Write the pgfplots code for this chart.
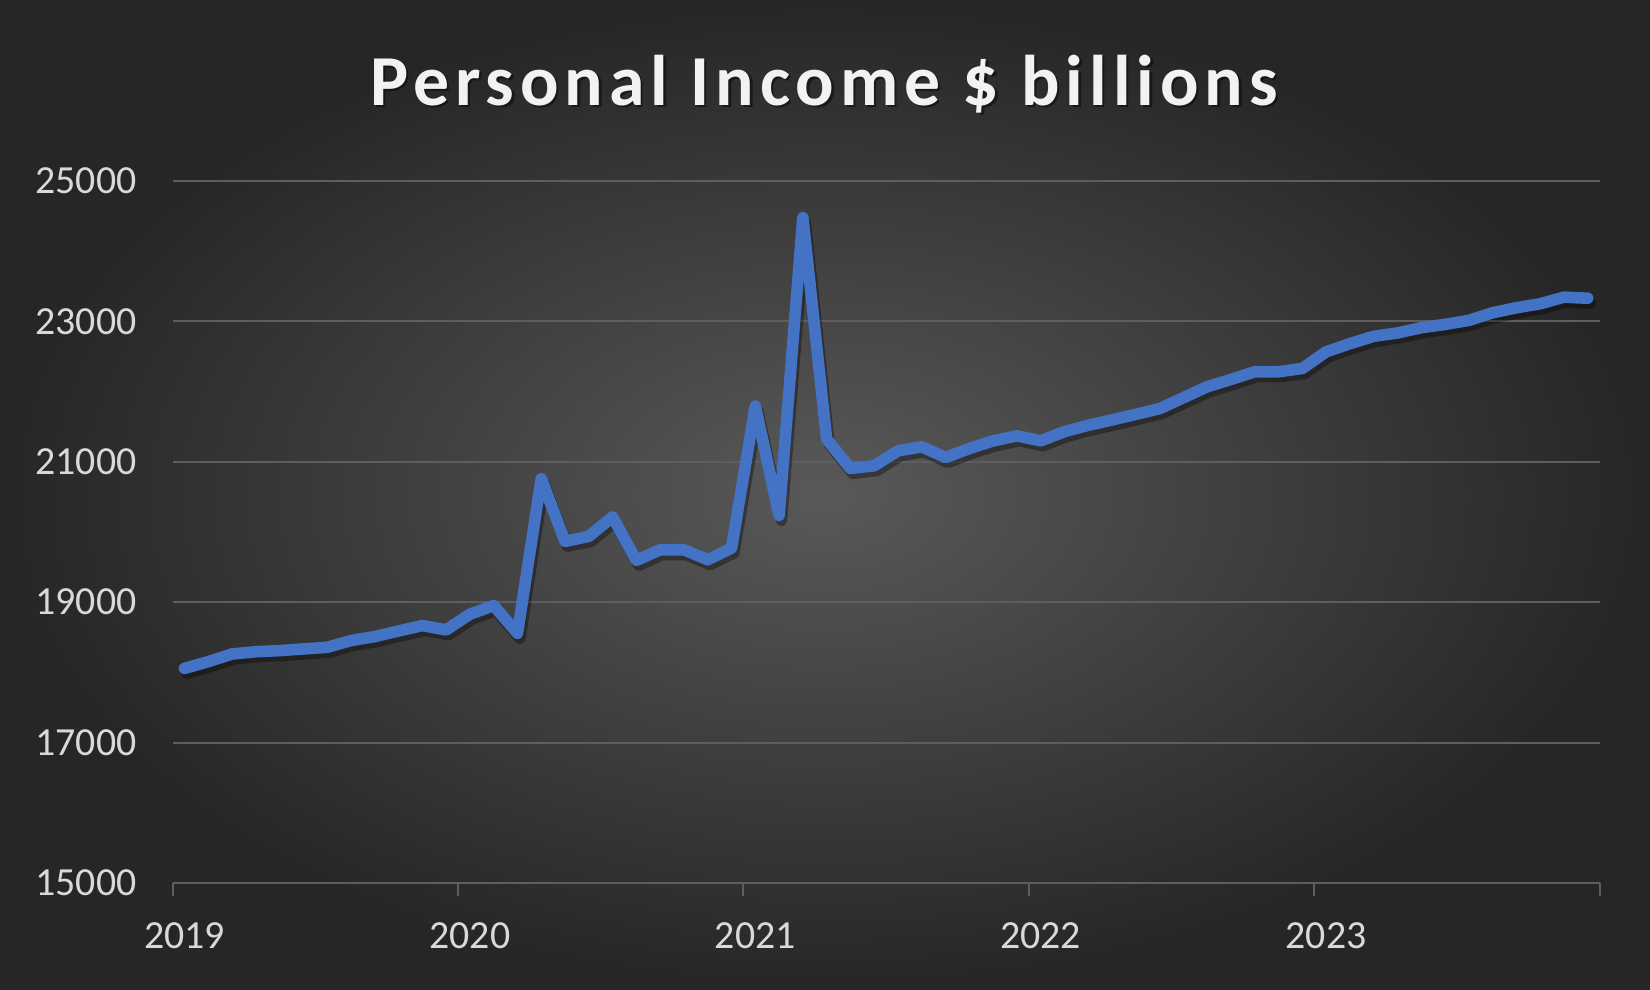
\documentclass[border=0pt]{standalone}
\usepackage{pgfplots}
\pgfplotsset{compat=1.18}
\usepackage{pgfplotstable}
\usepackage{fontspec}
\setmainfont{Carlito}
\newfontfamily\titlefont[LetterSpace=8.3]{Carlito}

\definecolor{bgin}{HTML}{595959}
\definecolor{bgout}{HTML}{262626}
\definecolor{gridc}{HTML}{5E5E5E}
\definecolor{labelc}{HTML}{D9D9D9}
\definecolor{titlec}{HTML}{F2F2F2}
\definecolor{linec}{HTML}{4472C4}

% monthly values, Jan 2019 = 0
\pgfplotstableread{
m v
0 18057
1 18153
2 18262
3 18295
4 18310
5 18334
6 18357
7 18453
8 18510
9 18590
10 18667
11 18605
12 18829
13 18952
14 18557
15 20761
16 19866
17 19938
18 20214
19 19595
20 19747
21 19747
22 19605
23 19771
24 21795
25 20234
26 24480
27 21322
28 20905
29 20943
30 21156
31 21213
32 21061
33 21189
34 21298
35 21369
36 21298
37 21430
38 21520
39 21596
40 21676
41 21757
42 21913
43 22069
44 22173
45 22282
46 22282
47 22329
48 22566
49 22683
50 22787
51 22835
52 22910
53 22957
54 23014
55 23123
56 23194
57 23251
58 23345
59 23330
}\income

\begin{document}
\begin{tikzpicture}
\shade[inner color=bgin, outer color=bgout] (0,0) rectangle (825bp,495bp);

% title with a soft shadow
\node[anchor=base, text=black, opacity=0.45, font=\titlefont\fontsize{36}{40}\selectfont\bfseries]
  at (413.2bp,441bp) {Personal Income \$ billions};
\node[anchor=base, text=titlec, font=\titlefont\fontsize{36}{40}\selectfont\bfseries]
  at (412bp,442bp) {Personal Income \$ billions};

\begin{axis}[
    at={(86.3bp,53.5bp)},
    anchor=south west,
    scale only axis,
    width=713.5bp,
    height=351bp,
    xmin=0, xmax=60,
    ymin=15000, ymax=25000,
    scaled y ticks=false,
    axis x line*=bottom,
    axis y line*=left,
    x axis line style={-, draw=gridc, line width=1bp},
    y axis line style={-, draw=none},
    xtick={0.5,12.5,24.5,36.5,48.5},
    xticklabels={2019,2020,2021,2022,2023},
    extra x ticks={0,12,24,36,48,60},
    extra x tick labels={},
    extra x tick style={xtick align=outside, major tick length=6.3bp,
        tick style={draw=gridc, line width=1bp}},
    ytick={15000,17000,19000,21000,23000,25000},
    yticklabels={15000,17000,19000,21000,23000,25000},
    major tick length=0pt,
    ymajorgrids,
    grid style={draw=gridc, line width=1bp},
    tick label style={font=\fontsize{20}{24}\selectfont, text=labelc},
    xticklabel style={yshift=-16.2bp},
    yticklabel style={xshift=-14.5bp},
    clip=false,
]
\addplot[black, opacity=0.35, line width=5.8bp, line join=round, line cap=round,
    xshift=1.2bp, yshift=-2.4bp]
    table[x expr=\thisrow{m}+0.5, y=v] {\income};
\addplot[linec, line width=5.8bp, line join=round, line cap=round]
    table[x expr=\thisrow{m}+0.5, y=v] {\income};
\end{axis}

\pgfresetboundingbox
\path (0,0) rectangle (825bp,495bp);
\end{tikzpicture}
\end{document}
